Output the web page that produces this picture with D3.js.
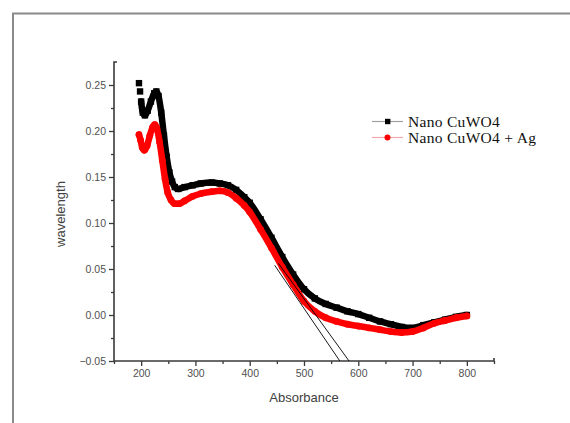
<!DOCTYPE html>
<html>
<head>
<meta charset="utf-8">
<script src="https://cdn.jsdelivr.net/npm/d3@7"></script>
<style>
  html, body { margin: 0; padding: 0; background: #fff; }
  svg { display: block; }
</style>
</head>
<body>
<svg id="chart" width="570" height="423"></svg>
<script>
// Wavelength (nm) sample positions and measured values for each sample
const nanoX = [196, 198, 200, 203, 207, 212, 218, 224, 228, 232, 237, 242, 247, 252, 257, 262, 268,
  280, 295, 310, 330, 345, 360, 375, 390, 400, 420, 440, 460, 480, 500, 520, 540, 560, 580, 600,
  620, 640, 660, 680, 700, 720, 740, 760, 780, 800];
const nanoY = [0.252, 0.243, 0.232, 0.220, 0.217, 0.222, 0.232, 0.241, 0.243, 0.238, 0.220, 0.195, 0.172,
  0.155, 0.145, 0.139, 0.137, 0.139, 0.141, 0.143, 0.144, 0.143, 0.141, 0.136, 0.128, 0.122, 0.104,
  0.084, 0.063, 0.044, 0.028, 0.018, 0.012, 0.008, 0.004, 0.001, -0.003, -0.007, -0.010, -0.013,
  -0.014, -0.011, -0.008, -0.005, -0.002, 0.000];

const agX = [196, 199, 202, 206, 211, 216, 221, 225, 229, 234, 239, 244, 249, 255, 262, 270, 280, 295,
  310, 330, 345, 360, 375, 390, 400, 420, 440, 460, 480, 500, 520, 540, 560, 580, 600, 620, 640,
  660, 680, 700, 720, 740, 760, 780, 800];
const agY = [0.196, 0.190, 0.182, 0.179, 0.184, 0.195, 0.204, 0.207, 0.203, 0.188, 0.168, 0.148, 0.133,
  0.125, 0.121, 0.121, 0.124, 0.129, 0.132, 0.134, 0.135, 0.133, 0.127, 0.119, 0.112, 0.093, 0.073,
  0.052, 0.033, 0.015, 0.004, -0.003, -0.007, -0.010, -0.012, -0.014, -0.016, -0.018, -0.019,
  -0.018, -0.014, -0.009, -0.006, -0.003, -0.001];

// Band-edge tangent lines: [x1, y1, x2, y2]
const tangentA = [446, 0.054, 566, -0.05];
const tangentB = [453, 0.056, 583, -0.05];

const xTicks = [200, 300, 400, 500, 600, 700, 800];
const xMinor = [150, 250, 350, 450, 550, 650, 750, 850];
const yTicks = [-0.05, 0.00, 0.05, 0.10, 0.15, 0.20, 0.25];
const yMinor = [-0.025, 0.025, 0.075, 0.125, 0.175, 0.225];

const seriesNames = ["Nano CuWO4", "Nano CuWO4 + Ag"];

const svg = d3.select("#chart");

// outer frame
svg.append("path")
  .attr("d", "M13,423 L13,13.5 L570,13.5")
  .attr("fill", "none").attr("stroke", "#8a8a8a").attr("stroke-width", 2);

const x = d3.scaleLinear().domain([150, 850]).range([114, 494]);
const y = d3.scaleLinear().domain([-0.05, 0.275]).range([361, 62]);

const axisColor = "#3a3a3a";
const labelColor = "#505050";

// axes
const gx = svg.append("g").attr("transform", `translate(0,${y(-0.05)})`);
gx.call(d3.axisBottom(x).tickValues(xTicks).tickSize(5).tickPadding(4).tickFormat(d3.format("d")));
const gxm = svg.append("g").attr("transform", `translate(0,${y(-0.05)})`);
gxm.call(d3.axisBottom(x).tickValues(xMinor).tickSize(3).tickFormat(""));

const gy = svg.append("g").attr("transform", `translate(${x(150)},0)`);
gy.call(d3.axisLeft(y).tickValues(yTicks).tickSize(5).tickPadding(3).tickFormat(d3.format(".2f")));
const gym = svg.append("g").attr("transform", `translate(${x(150)},0)`);
gym.call(d3.axisLeft(y).tickValues(yMinor).tickSize(3).tickFormat(""));

svg.selectAll(".domain").attr("stroke", axisColor).attr("stroke-width", 1.6);
svg.selectAll(".tick line").attr("stroke", axisColor).attr("stroke-width", 1.3);
svg.selectAll(".tick text")
  .attr("fill", labelColor)
  .style("font-family", "Arial, 'Liberation Sans', sans-serif")
  .style("font-size", "10.5px");
gxm.select(".domain").remove();
gym.select(".domain").remove();
gx.select(".domain").attr("d", `M${x(150)},0H${x(850)}V-3`);
gy.select(".domain").attr("d", `M0,${y(-0.05)}V${y(0.275)}H3`);

// axis titles
svg.append("text")
  .attr("x", 304).attr("y", 402)
  .attr("text-anchor", "middle")
  .attr("fill", "#404040")
  .style("font-family", "Arial, 'Liberation Sans', sans-serif")
  .style("font-size", "13px")
  .text("Absorbance");

svg.append("text")
  .attr("transform", "translate(65,214) rotate(-90)")
  .attr("text-anchor", "middle")
  .attr("fill", "#404040")
  .style("font-family", "Arial, 'Liberation Sans', sans-serif")
  .style("font-size", "13px")
  .text("wavelength");

// series
const line = d3.line().x(d => x(d[0])).y(d => y(d[1])).curve(d3.curveMonotoneX);
const nano = d3.zip(nanoX, nanoY);
const ag = d3.zip(agX, agY);

const plot = svg.append("g");

plot.append("path").datum(nano.slice(2))
  .attr("d", line)
  .attr("fill", "none").attr("stroke", "#000").attr("stroke-width", 6.5)
  .attr("stroke-linejoin", "round").attr("stroke-linecap", "round");
plot.selectAll("rect.nano").data(nano).join("rect")
  .attr("class", "nano")
  .attr("x", d => x(d[0]) - 3.2).attr("y", d => y(d[1]) - 3.2)
  .attr("width", 6.4).attr("height", 6.4)
  .attr("fill", "#000");

plot.append("path").datum(ag)
  .attr("d", line)
  .attr("fill", "none").attr("stroke", "#f00").attr("stroke-width", 6.5)
  .attr("stroke-linejoin", "round").attr("stroke-linecap", "round");
plot.selectAll("circle.ag").data(ag).join("circle")
  .attr("class", "ag")
  .attr("cx", d => x(d[0])).attr("cy", d => y(d[1])).attr("r", 3.4)
  .attr("fill", "#f00");

// tangent lines
[tangentA, tangentB].forEach(t => {
  plot.append("line")
    .attr("x1", x(t[0])).attr("y1", y(t[1]))
    .attr("x2", x(t[2])).attr("y2", y(t[3]))
    .attr("stroke", "#000").attr("stroke-width", 0.9);
});

// legend
const legend = svg.append("g").attr("transform", "translate(372,121.5)");
const legendStyles = [
  { lineColor: "#a0a0a0", fill: "#000", shape: "square" },
  { lineColor: "#f2a8a8", fill: "#f00", shape: "circle" }
];
seriesNames.forEach((name, i) => {
  const g = legend.append("g").attr("transform", `translate(0,${i * 16})`);
  g.append("line").attr("x1", 0).attr("x2", 31).attr("y1", 0).attr("y2", 0)
    .attr("stroke", legendStyles[i].lineColor).attr("stroke-width", 1.2);
  if (legendStyles[i].shape === "square") {
    g.append("rect").attr("x", 13).attr("y", -2.7).attr("width", 5.4).attr("height", 5.4)
      .attr("fill", legendStyles[i].fill);
  } else {
    g.append("circle").attr("cx", 15.5).attr("cy", 0).attr("r", 3)
      .attr("fill", legendStyles[i].fill);
  }
  g.append("text").attr("x", 36).attr("y", 5)
    .attr("fill", "#111")
    .style("font-family", "'Liberation Serif', 'Times New Roman', serif")
    .style("font-size", "15.5px")
    .style("letter-spacing", "0.3px")
    .text(name);
});
</script>
</body>
</html>
